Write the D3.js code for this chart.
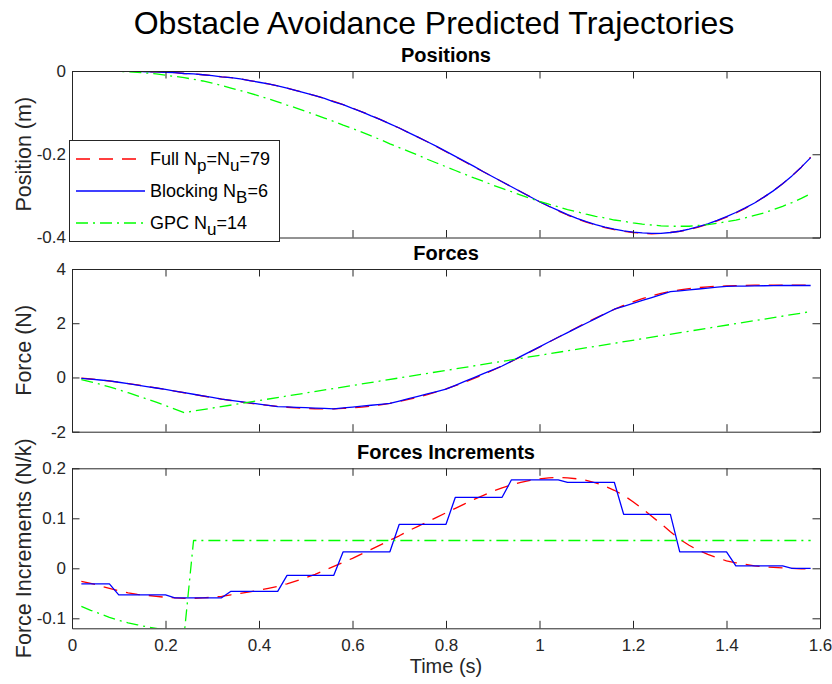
<!DOCTYPE html>
<html>
<head>
<meta charset="utf-8">
<script src="https://cdn.jsdelivr.net/npm/d3@7"></script>
<style>
  html, body { margin: 0; padding: 0; background: #fff; }
  svg { display: block; }
  text { font-family: "Liberation Sans", Arial, Helvetica, sans-serif; }
</style>
</head>
<body>
<svg id="chart" width="832" height="684"></svg>
<script>
// Prediction horizon sample times (s)
const time = [0.02,0.04,0.06,0.08,0.10,0.12,0.14,0.16,0.18,0.20,
  0.22,0.24,0.26,0.28,0.30,0.32,0.34,0.36,0.38,0.40,
  0.42,0.44,0.46,0.48,0.50,0.52,0.54,0.56,0.58,0.60,
  0.62,0.64,0.66,0.68,0.70,0.72,0.74,0.76,0.78,0.80,
  0.82,0.84,0.86,0.88,0.90,0.92,0.94,0.96,0.98,1.00,
  1.02,1.04,1.06,1.08,1.10,1.12,1.14,1.16,1.18,1.20,
  1.22,1.24,1.26,1.28,1.30,1.32,1.34,1.36,1.38,1.40,
  1.42,1.44,1.46,1.48,1.50,1.52,1.54,1.56,1.58];

// Positions (m)
const fullPosition = [0,0,0,0,0,-0.001,-0.001,-0.002,-0.002,-0.003,
  -0.004,-0.006,-0.007,-0.009,-0.011,-0.014,-0.016,-0.019,-0.023,-0.027,
  -0.031,-0.036,-0.041,-0.047,-0.053,-0.059,-0.066,-0.073,-0.081,-0.089,
  -0.098,-0.107,-0.117,-0.127,-0.137,-0.148,-0.159,-0.170,-0.182,-0.194,
  -0.206,-0.218,-0.230,-0.242,-0.254,-0.266,-0.278,-0.290,-0.302,-0.314,
  -0.325,-0.336,-0.346,-0.355,-0.363,-0.370,-0.376,-0.381,-0.385,-0.388,
  -0.390,-0.391,-0.390,-0.388,-0.385,-0.381,-0.375,-0.368,-0.360,-0.351,
  -0.341,-0.330,-0.317,-0.303,-0.288,-0.271,-0.252,-0.231,-0.207];
const blockingPosition = [0,0,0,0,0,-0.001,-0.001,-0.002,-0.002,-0.003,
  -0.004,-0.006,-0.007,-0.009,-0.011,-0.014,-0.016,-0.019,-0.023,-0.027,
  -0.031,-0.036,-0.041,-0.047,-0.053,-0.059,-0.066,-0.074,-0.081,-0.090,
  -0.098,-0.108,-0.117,-0.127,-0.137,-0.148,-0.159,-0.170,-0.181,-0.193,
  -0.205,-0.217,-0.229,-0.242,-0.254,-0.266,-0.278,-0.290,-0.302,-0.314,
  -0.325,-0.335,-0.345,-0.354,-0.362,-0.369,-0.375,-0.380,-0.384,-0.387,
  -0.389,-0.390,-0.390,-0.388,-0.385,-0.380,-0.374,-0.367,-0.359,-0.350,
  -0.340,-0.329,-0.317,-0.303,-0.288,-0.271,-0.252,-0.231,-0.208];
const gpcPosition = [0,0,0,-0.001,-0.001,-0.002,-0.003,-0.005,-0.007,-0.010,
  -0.013,-0.016,-0.020,-0.024,-0.029,-0.035,-0.041,-0.047,-0.053,-0.060,
  -0.067,-0.074,-0.082,-0.089,-0.097,-0.105,-0.113,-0.121,-0.130,-0.138,
  -0.147,-0.156,-0.165,-0.175,-0.184,-0.193,-0.202,-0.212,-0.221,-0.230,
  -0.239,-0.248,-0.257,-0.265,-0.274,-0.282,-0.290,-0.298,-0.306,-0.313,
  -0.320,-0.326,-0.333,-0.338,-0.344,-0.349,-0.353,-0.358,-0.361,-0.365,
  -0.368,-0.370,-0.372,-0.373,-0.373,-0.373,-0.371,-0.369,-0.366,-0.362,
  -0.358,-0.353,-0.347,-0.341,-0.333,-0.325,-0.316,-0.306,-0.295];

// Forces (N)
const fullForce = [-0.026,-0.056,-0.091,-0.131,-0.176,-0.225,-0.277,-0.331,-0.387,-0.445,
  -0.504,-0.564,-0.624,-0.683,-0.741,-0.797,-0.850,-0.900,-0.947,-0.991,
  -1.031,-1.067,-1.098,-1.123,-1.142,-1.154,-1.158,-1.154,-1.142,-1.122,
  -1.093,-1.055,-1.008,-0.952,-0.887,-0.812,-0.728,-0.635,-0.533,-0.422,
  -0.302,-0.173,-0.035,0.111,0.265,0.426,0.593,0.765,0.941,1.120,
  1.301,1.483,1.664,1.843,2.019,2.190,2.354,2.510,2.656,2.789,
  2.908,3.012,3.101,3.174,3.232,3.278,3.314,3.342,3.363,3.378,
  3.389,3.397,3.402,3.405,3.407,3.408,3.408,3.407,3.406];
const blockingForce = [-0.031,-0.062,-0.093,-0.124,
  -0.177,-0.230,-0.283,-0.336,-0.389,-0.442,
  -0.501,-0.560,-0.619,-0.678,-0.737,-0.796,
  -0.842,-0.888,-0.934,-0.980,-1.026,-1.072,
  -1.086,-1.100,-1.114,-1.128,-1.142,-1.156,
  -1.123,-1.090,-1.057,-1.024,-0.991,-0.958,
  -0.870,-0.782,-0.694,-0.606,-0.518,-0.430,
  -0.288,-0.146,-0.004,0.138,0.280,0.422,
  0.599,0.776,0.953,1.130,1.307,1.484,
  1.656,1.828,2.000,2.172,2.344,2.516,
  2.624,2.732,2.840,2.948,3.056,3.164,
  3.197,3.230,3.263,3.296,3.329,3.362,
  3.367,3.372,3.377,3.382,3.387,3.392,
  3.392,3.392,3.392];
// GPC force: ramps down to its minimum, then a straight ramp to the horizon end
const gpcForceTime = [0.02,0.04,0.06,0.08,0.10,0.12,0.14,0.16,0.18,0.20,0.22,0.24,1.58];
const gpcForce = [-0.076,-0.160,-0.251,-0.349,-0.453,-0.562,-0.675,-0.792,-0.912,-1.036,-1.164,-1.296,2.429];

// Force increments (N/k)
const fullIncrement = [-0.026,-0.030,-0.035,-0.040,-0.045,-0.049,-0.052,-0.054,-0.056,-0.058,
  -0.059,-0.060,-0.060,-0.059,-0.058,-0.056,-0.053,-0.050,-0.047,-0.044,
  -0.040,-0.036,-0.031,-0.025,-0.019,-0.012,-0.004,0.004,0.012,0.020,
  0.029,0.038,0.047,0.056,0.065,0.075,0.084,0.093,0.102,0.111,
  0.120,0.129,0.138,0.146,0.154,0.161,0.167,0.172,0.176,0.179,
  0.181,0.182,0.181,0.179,0.176,0.171,0.164,0.156,0.146,0.133,
  0.119,0.104,0.089,0.073,0.058,0.046,0.036,0.028,0.021,0.015,
  0.011,0.008,0.005,0.003,0.002,0.001,0.000,-0.001,-0.001];
const blockingIncrement = [-0.031,-0.031,-0.031,-0.031,
  -0.053,-0.053,-0.053,-0.053,-0.053,-0.053,
  -0.059,-0.059,-0.059,-0.059,-0.059,-0.059,
  -0.046,-0.046,-0.046,-0.046,-0.046,-0.046,
  -0.014,-0.014,-0.014,-0.014,-0.014,-0.014,
  0.033,0.033,0.033,0.033,0.033,0.033,
  0.088,0.088,0.088,0.088,0.088,0.088,
  0.142,0.142,0.142,0.142,0.142,0.142,
  0.177,0.177,0.177,0.177,0.177,0.177,
  0.172,0.172,0.172,0.172,0.172,0.172,
  0.108,0.108,0.108,0.108,0.108,0.108,
  0.033,0.033,0.033,0.033,0.033,0.033,
  0.005,0.005,0.005,0.005,0.005,0.005,
  0,0,0];
const gpcIncrementTime = [0.02,0.04,0.06,0.08,0.10,0.12,0.14,0.16,0.18,0.20,0.22,0.24,0.26,1.58];
const gpcIncrement = [-0.076,-0.084,-0.091,-0.098,-0.104,-0.109,-0.113,-0.117,-0.120,-0.124,-0.128,-0.132,0.0556,0.0556];

// Axis ticks and labels
const xTicks = [0,0.2,0.4,0.6,0.8,1,1.2,1.4,1.6];
const xTickLabels = ["0","0.2","0.4","0.6","0.8","1","1.2","1.4","1.6"];
const posTicks = [-0.4,-0.2,0];
const posTickLabels = ["-0.4","-0.2","0"];
const forceTicks = [-2,0,2,4];
const forceTickLabels = ["-2","0","2","4"];
const incTicks = [-0.1,0,0.1,0.2];
const incTickLabels = ["-0.1","0","0.1","0.2"];

const seriesNames = ["Full N|p|=N|u|=79", "Blocking N|B|=6", "GPC N|u|=14"];

// ---- drawing ----
const svg = d3.select("#chart");
const AX = "#262626";
const colors = ["#ff0000", "#0000ff", "#00ff00"];
const dashes = ["14,9", null, "12,5,2,5"];
const LW = 1.3;
const TICK_FONT = 17;

const x = d3.scaleLinear().domain([0, 1.6]).range([72, 820]);

const panels = [
  { id: "pos", title: "Positions", ylabel: "Position (m)", domain: [-0.4, 0], range: [237.5, 71],
    ticks: posTicks, labels: posTickLabels,
    series: [[time, fullPosition], [time, blockingPosition], [time, gpcPosition]] },
  { id: "force", title: "Forces", ylabel: "Force (N)", domain: [-2, 4], range: [431.7, 269],
    ticks: forceTicks, labels: forceTickLabels,
    series: [[time, fullForce], [time, blockingForce], [gpcForceTime, gpcForce]] },
  { id: "inc", title: "Forces Increments", ylabel: "Force Increments (N/k)", domain: [-0.12, 0.2], range: [628.3, 468.3],
    ticks: incTicks, labels: incTickLabels,
    series: [[time, fullIncrement], [time, blockingIncrement], [gpcIncrementTime, gpcIncrement]] }
];

svg.append("text").attr("x", 434).attr("y", 34).attr("text-anchor", "middle")
  .attr("font-size", 32).attr("fill", "#000").text("Obstacle Avoidance Predicted Trajectories");

const TICK = 7.5;

panels.forEach((p, i) => {
  const y = d3.scaleLinear().domain(p.domain).range(p.range);
  const g = svg.append("g");
  const top = p.range[1], bottom = p.range[0];

  g.append("clipPath").attr("id", "clip-" + p.id)
    .append("rect").attr("x", x.range()[0]).attr("y", top)
    .attr("width", x.range()[1] - x.range()[0]).attr("height", bottom - top);

  const plot = g.append("g").attr("clip-path", `url(#clip-${p.id})`);
  p.series.forEach(([ts, vs], s) => {
    const line = d3.line().x((d, k) => x(ts[k])).y(d => y(d));
    const path = plot.append("path").datum(vs)
      .attr("d", line).attr("fill", "none")
      .attr("stroke", colors[s]).attr("stroke-width", LW)
      .attr("stroke-linejoin", "round");
    if (dashes[s]) path.attr("stroke-dasharray", dashes[s]);
  });

  // axes box with inward ticks on all four sides
  const left = g.append("g").attr("transform", `translate(${x.range()[0]},0)`)
    .call(d3.axisLeft(y).tickValues(p.ticks).tickSizeInner(-TICK).tickSizeOuter(0)
      .tickPadding(6).tickFormat((d, k) => p.labels[k]));
  const right = g.append("g").attr("transform", `translate(${x.range()[1]},0)`)
    .call(d3.axisRight(y).tickValues(p.ticks).tickSizeInner(-TICK).tickSizeOuter(0).tickFormat(""));
  const topAx = g.append("g").attr("transform", `translate(0,${top})`)
    .call(d3.axisTop(x).tickValues(xTicks).tickSizeInner(-TICK).tickSizeOuter(0).tickFormat(""));
  const bottomAx = g.append("g").attr("transform", `translate(0,${bottom})`)
    .call(d3.axisBottom(x).tickValues(xTicks).tickSizeInner(-TICK).tickSizeOuter(0)
      .tickPadding(11).tickFormat((d, k) => i === 2 ? xTickLabels[k] : ""));

  [left, right, topAx, bottomAx].forEach(a => {
    a.select(".domain").attr("stroke", AX).attr("stroke-width", 1);
    a.selectAll(".tick line").attr("stroke", AX).attr("stroke-width", 1);
    a.selectAll(".tick text").attr("fill", AX).attr("font-size", TICK_FONT)
      .attr("font-family", '"Liberation Sans", Arial, sans-serif');
  });

  // panel title
  svg.append("text").attr("x", 446).attr("y", top - 9).attr("text-anchor", "middle")
    .attr("font-size", 20).attr("font-weight", "bold").attr("fill", "#000").text(p.title);

  // y label
  svg.append("text").attr("transform", `translate(31,${(top + bottom) / 2}) rotate(-90)`)
    .attr("text-anchor", "middle").attr("font-size", 21.5).attr("fill", AX).text(p.ylabel);
});

svg.append("text").attr("x", 446).attr("y", 673).attr("text-anchor", "middle")
  .attr("font-size", 20).attr("fill", AX).text("Time (s)");

// legend
const lg = svg.append("g");
lg.append("rect").attr("x", 69.5).attr("y", 140.5).attr("width", 210).attr("height", 101)
  .attr("fill", "#fff").attr("stroke", AX).attr("stroke-width", 1);
seriesNames.forEach((name, s) => {
  const cy = 159 + s * 32;
  const l = lg.append("line").attr("x1", 76).attr("x2", 145).attr("y1", cy).attr("y2", cy)
    .attr("stroke", colors[s]).attr("stroke-width", LW);
  if (dashes[s]) l.attr("stroke-dasharray", dashes[s]);
  const t = lg.append("text").attr("x", 150).attr("y", cy + 6).attr("font-size", 18).attr("fill", "#000");
  // "|" toggles between normal text and subscript
  name.split("|").forEach((part, k) => {
    if (!part) return;
    const sub = k % 2 === 1;
    t.append("tspan").attr("font-size", sub ? 17 : 18)
      .attr("dy", sub ? 6 : (k > 0 ? -6 : 0)).text(part);
  });
});
</script>
</body>
</html>
